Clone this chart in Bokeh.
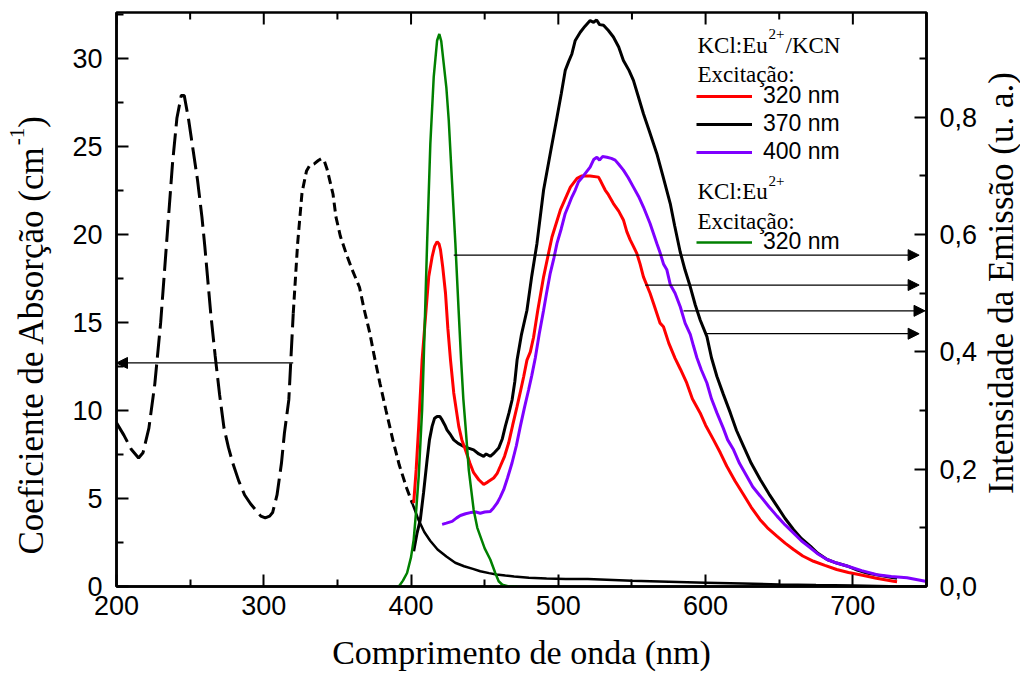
from math import pi
from bokeh.plotting import figure
from bokeh.layouts import row
from bokeh.core.properties import value
from bokeh.models import (Range1d, LinearAxis, FixedTicker, CustomJSTickFormatter, Label,
                          Arrow, NormalHead, Legend, LegendItem)
from bokeh.embed import file_html
from bokeh.resources import INLINE

# ---------------- data ----------------
# Absorption coefficient (cm^-1), left axis
abs_nm = [200, 205, 210, 215, 218, 222, 226, 230, 234, 238, 241, 244, 246, 249, 252, 255, 258, 260,
          264, 267, 270, 273, 276, 279, 283, 287, 291, 295, 298, 301, 304, 306, 309, 312, 314, 317,
          320, 323, 326, 329, 331, 334, 337, 339, 341, 343, 345, 347, 349, 352, 356, 360, 363, 365,
          368, 372, 375, 379, 383, 388, 392, 397, 401,
          405, 409, 413, 418, 424, 430, 436, 442, 447, 453, 458, 464, 470, 480, 492, 505, 520, 550,
          575, 600, 625, 650, 675, 700, 725, 750]
abs_val = [9.3, 8.6, 7.8, 7.3, 7.6, 9.0, 11.5, 15.0, 19.5, 24.0, 26.6, 27.9, 27.9, 26.5, 24.8, 23.1, 21.0, 19.3,
           15.5, 13.1, 10.9, 9.0, 7.9, 7.0, 6.0, 5.2, 4.7, 4.3, 4.0, 3.9, 4.0, 4.2, 5.2, 7.0, 8.7, 10.6,
           15.5, 19.5, 22.4, 23.6, 23.9, 24.0, 24.2, 24.3, 24.2, 23.7, 23.0, 22.3, 21.0, 19.9, 18.9, 18.0, 17.4, 17.0,
           15.8, 14.4, 13.1, 11.5, 10.0, 8.2, 6.9, 5.6, 4.7,
           3.8, 3.1, 2.6, 2.1, 1.7, 1.35, 1.15, 1.0, 0.87, 0.76, 0.68, 0.62, 0.57, 0.5, 0.45, 0.42, 0.42, 0.32,
           0.27, 0.22, 0.17, 0.12, 0.08, 0.05, 0.02, 0.0]

# Emission KCl:Eu2+/KCN, excitation 320 nm (right axis)
red_nm = [401.8, 403.5, 405.2, 407.5, 409.5, 412, 414.3, 416, 417.7, 419, 420, 421.5, 423.4, 425, 426.8, 429,
          432.4, 434.5, 436.9, 440, 442.5, 446, 449.3, 452, 456.1, 458.5, 460.6, 463.5, 466.3, 469, 472,
          474.5, 476.5, 478.7, 481, 483.2, 486, 490, 495.7, 501.4, 508.2, 512.7, 516, 521.6, 527.3, 529,
          531.8, 534, 537.4, 541, 544.2, 546.5, 548.8, 551, 553.3, 555.5, 557.8, 562.3, 564.6, 569.1, 571.4,
          575, 579.3, 583, 587.2, 591, 596.3, 600, 605.4, 610, 614.4, 620, 625.7, 631, 637, 642, 648.4, 654,
          659.7, 666, 673.3, 681, 689, 697, 704.9, 716, 727.6, 730]
red_val = [0.142, 0.2, 0.273, 0.386, 0.45, 0.528, 0.562, 0.58, 0.588, 0.584, 0.574, 0.545, 0.5, 0.44, 0.386, 0.33,
           0.273, 0.25, 0.233, 0.21, 0.194, 0.182, 0.174, 0.178, 0.185, 0.193, 0.205, 0.222, 0.245, 0.275, 0.307,
           0.335, 0.358, 0.386, 0.40, 0.425, 0.47, 0.528, 0.596, 0.642, 0.681, 0.696, 0.70, 0.70, 0.698, 0.69,
           0.676, 0.668, 0.653, 0.64, 0.625, 0.605, 0.591, 0.58, 0.568, 0.55, 0.528, 0.50, 0.483, 0.449, 0.443,
           0.415, 0.389, 0.37, 0.347, 0.32, 0.296, 0.275, 0.25, 0.228, 0.205, 0.18, 0.157, 0.135, 0.114, 0.1, 0.086, 0.074,
           0.063, 0.052, 0.043, 0.036, 0.029, 0.024, 0.020, 0.014, 0.009, 0.008]

# Emission KCl:Eu2+/KCN, excitation 370 nm
blk_nm = [401.8, 404, 406.3, 408.5, 410.9, 412.5, 414.3, 416, 417.7, 419.5, 421.1, 423, 424.4, 427, 429, 432,
          435.7, 439, 442.5, 446, 449.3, 451, 453.8, 456.5, 459.5, 462, 464, 466.5, 468.6, 470.5, 472, 475,
          478.7, 482, 485.5, 490, 494.5, 499.1, 502, 504.7, 507, 509.2, 511.5, 514.9, 518, 521.6, 524, 526,
          528, 530.7, 534, 537.4, 541, 544.2, 548, 551, 554, 557.8, 562, 566.9, 571, 576, 579, 582.8, 586,
          589.6, 593, 596.4, 600.9, 604, 607.7, 612, 616.8, 621, 625.8, 631, 637.2, 643, 648.5, 654, 659.8,
          665, 671.1, 676, 682.5, 689, 696, 703, 709.6, 718, 727.7, 730]
blk_val = [0.06, 0.09, 0.114, 0.16, 0.216, 0.25, 0.273, 0.287, 0.29, 0.29, 0.284, 0.275, 0.267, 0.258, 0.25, 0.244,
           0.239, 0.236, 0.233, 0.226, 0.222, 0.226, 0.222, 0.228, 0.236, 0.252, 0.273, 0.296, 0.318, 0.35, 0.386, 0.43,
           0.471, 0.53, 0.585, 0.676, 0.738, 0.80, 0.84, 0.88, 0.895, 0.908, 0.931, 0.945, 0.955, 0.965, 0.962, 0.966,
           0.958, 0.957, 0.948, 0.937, 0.92, 0.897, 0.88, 0.863, 0.838, 0.806, 0.775, 0.738, 0.70, 0.653, 0.615, 0.57, 0.54,
           0.511, 0.48, 0.454, 0.426, 0.39, 0.358, 0.328, 0.296, 0.266, 0.239, 0.21, 0.182, 0.158, 0.137, 0.116, 0.097,
           0.082, 0.069, 0.057, 0.046, 0.040, 0.035, 0.028, 0.023, 0.019, 0.015, 0.014]

# Emission KCl:Eu2+/KCN, excitation 400 nm
pur_nm = [421.1, 424, 427.9, 431, 433.5, 437, 440.3, 444, 447, 450, 453.8, 456, 458.4, 460.5, 462.9, 465.5,
          468.6, 471.5, 474.2, 477, 479.8, 482, 484.4, 487, 490, 492, 494.5, 497, 499.1, 502, 504.7, 507,
          509.2, 511.5, 513.7, 517, 521.6, 524, 526.2, 528, 530, 533, 536, 538.6, 541, 544.2, 547.5, 551,
          554.5, 557.8, 562.3, 566.9, 569, 571.4, 573.7, 576, 579.3, 582.8, 586.1, 589.6, 591.8, 594.1, 597,
          600.9, 604, 607.7, 612, 615, 619, 623, 628, 632, 637.2, 643, 648.5, 654, 659.8, 665, 671.1, 676,
          682.5, 689, 696, 706, 716.4, 726, 736.8, 743, 749.2]
pur_val = [0.106, 0.108, 0.111, 0.117, 0.121, 0.124, 0.126, 0.127, 0.125, 0.127, 0.128, 0.134, 0.142, 0.152, 0.165, 0.185,
           0.211, 0.24, 0.273, 0.305, 0.335, 0.36, 0.39, 0.43, 0.471, 0.50, 0.534, 0.56, 0.585, 0.61, 0.636, 0.65,
           0.664, 0.676, 0.69, 0.70, 0.715, 0.728, 0.732, 0.727, 0.733, 0.732, 0.73, 0.727, 0.72, 0.71, 0.697, 0.681,
           0.665, 0.647, 0.619, 0.585, 0.57, 0.55, 0.54, 0.515, 0.50, 0.477, 0.449, 0.43, 0.41, 0.39, 0.37,
           0.347, 0.32, 0.296, 0.27, 0.25, 0.233, 0.21, 0.188, 0.17, 0.154, 0.136, 0.12, 0.105, 0.091, 0.078, 0.066, 0.056,
           0.046, 0.040, 0.035, 0.027, 0.020, 0.017, 0.015, 0.012, 0.009]

# Emission KCl:Eu2+, excitation 320 nm
grn_nm = [391.7, 394.5, 397.3, 400, 401.8, 403.5, 405.2, 407.5, 408.6, 410.9, 413.1, 415.4, 417.7, 419.2, 420.5,
          422.2, 424, 425.6, 427.9, 430.1, 432.3, 434, 435.5, 437, 439.2, 442.5, 445, 447, 450, 453.8, 457.2,
          459.5, 462, 466.3, 472]
grn_val = [0.0, 0.01, 0.023, 0.05, 0.08, 0.13, 0.188, 0.30, 0.386, 0.585, 0.755, 0.869, 0.931, 0.942, 0.93,
           0.891, 0.85, 0.795, 0.687, 0.585, 0.471, 0.386, 0.32, 0.273, 0.199, 0.131, 0.10, 0.086, 0.065, 0.046, 0.023,
           0.009, 0.003, 0.0, 0.0]

# arrows (which axis each curve belongs to)
arr_left_x = [320, 200]
arr_left_y = 12.7
arr_right_start = [429, 559, 585, 600]
arr_right_end = [745, 745, 749, 745]
arr_right_y = [0.565, 0.514, 0.470, 0.431]

x_ticks = [200, 300, 400, 500, 600, 700]
x_minor = [250, 350, 450, 550, 650, 750]
yl_ticks = [0, 5, 10, 15, 20, 25, 30]
yl_minor = [2.5, 7.5, 12.5, 17.5, 22.5, 27.5, 32.5]
yr_ticks = [0.0, 0.2, 0.4, 0.6, 0.8]
yr_minor = [0.1, 0.3, 0.5, 0.7, 0.9]

x_title = "Comprimento de onda (nm)"
yl_title = ["Coeficiente de Absorção (cm", "-1", ")"]
yr_title = "Intensidade da Emissão (u. a.)"

# ---------------- layout ----------------
W, H = 1020, 673
LW, RW = 52, 40                 # side strips holding the vertical axis titles
PW = W - LW - RW                # main figure width
FL, FR, FT, FB = 116, 926, 12, 587   # frame edges in page pixels
X0, X1 = 200, 750
YL1 = 32.61
YR1 = 0.9787
PXY = (FB - FT) / YL1   # pixels per left-axis unit


def px2x(px):
    return X0 + (px - FL) * (X1 - X0) / (FR - FL)


def py2y(py):
    return YL1 * (FB - py) / (FB - FT)


p = figure(width=PW, height=H, x_range=Range1d(X0, X1), y_range=Range1d(0, YL1),
           output_backend="svg", toolbar_location=None,
           min_border_left=FL - LW, min_border_right=LW + PW - FR, min_border_top=FT, min_border_bottom=H - FB,
           x_axis_location=None, y_axis_location=None)
p.extra_y_ranges = {"em": Range1d(0, YR1)}
p.grid.grid_line_color = None
p.outline_line_color = "black"
p.outline_line_width = 2.5
p.background_fill_color = "white"
p.border_fill_color = "white"


def style(ax, ticks, minor):
    ax.ticker = FixedTicker(ticks=ticks, minor_ticks=minor)
    ax.axis_line_color = "black"
    ax.axis_line_width = 2.5
    ax.major_tick_in = 12
    ax.major_tick_out = 0
    ax.minor_tick_in = 7
    ax.minor_tick_out = 0
    ax.major_tick_line_width = 2
    ax.minor_tick_line_width = 2
    ax.major_tick_line_color = "black"
    ax.minor_tick_line_color = "black"
    ax.major_label_text_font = "Liberation Sans"
    ax.major_label_text_color = "black"
    ax.major_label_text_font_size = "27px"
    ax.axis_label_text_font = "Liberation Serif"
    ax.axis_label_text_font_style = "normal"
    ax.axis_label_text_color = "black"
    ax.axis_label_text_font_size = "34px"


xb = LinearAxis(axis_label=x_title)
style(xb, x_ticks, x_minor)
xb.major_label_standoff = 9
xb.axis_label_standoff = 16
p.add_layout(xb, "below")

yl = LinearAxis()
style(yl, yl_ticks, yl_minor)
yl.major_label_standoff = 14
p.add_layout(yl, "left")

yr = LinearAxis(y_range_name="em")
style(yr, yr_ticks, yr_minor)
yr.formatter = CustomJSTickFormatter(code="return tick.toFixed(1).replace('.', ',');")
yr.major_label_standoff = 13
p.add_layout(yr, "right")

# inward tick marks on the top frame edge, at the same tick positions as the bottom axis
p.segment(x0=x_ticks, y0=[YL1] * len(x_ticks), x1=x_ticks, y1=[YL1 - 12 / PXY] * len(x_ticks),
          line_color="black", line_width=2)
p.segment(x0=x_minor, y0=[YL1] * len(x_minor), x1=x_minor, y1=[YL1 - 7 / PXY] * len(x_minor),
          line_color="black", line_width=2)

# ---------------- curves ----------------
iA = [i for i, v in enumerate(abs_nm) if v <= 320]
iB = [i for i, v in enumerate(abs_nm) if 320 <= v <= 401]
iC = [i for i, v in enumerate(abs_nm) if v >= 401]
p.line([abs_nm[i] for i in iA], [abs_val[i] for i in iA], line_color="black", line_width=3, line_dash="22 7")
p.line([abs_nm[i] for i in iB], [abs_val[i] for i in iB], line_color="black", line_width=3, line_dash="9 5")
p.line([abs_nm[i] for i in iC], [abs_val[i] for i in iC], line_color="black", line_width=2.5)

r_blk = p.line(blk_nm, blk_val, y_range_name="em", line_color="black", line_width=3)
r_red = p.line(red_nm, red_val, y_range_name="em", line_color="#ff0000", line_width=3)
r_pur = p.line(pur_nm, pur_val, y_range_name="em", line_color="#7f00ff", line_width=3)
r_grn = p.line(grn_nm, grn_val, y_range_name="em", line_color="#008000", line_width=2.5)

# ---------------- arrows ----------------
p.add_layout(Arrow(end=NormalHead(size=11, fill_color="black", line_color="black", line_width=1),
                   x_start=arr_left_x[0], y_start=arr_left_y, x_end=arr_left_x[1], y_end=arr_left_y,
                   line_color="black", line_width=1.2))
for xs, xe, yy in zip(arr_right_start, arr_right_end, arr_right_y):
    p.add_layout(Arrow(end=NormalHead(size=11, fill_color="black", line_color="black", line_width=1),
                       x_start=xs, y_start=yy, x_end=xe, y_end=yy, y_range_name="em",
                       line_color="black", line_width=1.2))

# ---------------- legends ----------------
leg_kw = dict(border_line_alpha=0, background_fill_alpha=0, padding=0, margin=0, spacing=1,
              glyph_width=56, glyph_height=26, label_height=26, label_standoff=11,
              label_text_font="Liberation Sans", label_text_font_size="23px", label_text_color="black")
leg1 = Legend(items=[LegendItem(label="320 nm", renderers=[r_red]),
                     LegendItem(label="370 nm", renderers=[r_blk]),
                     LegendItem(label="400 nm", renderers=[r_pur])],
              location=(696 - FL, FB - 166), **leg_kw)
leg2 = Legend(items=[LegendItem(label="320 nm", renderers=[r_grn])],
              location=(696 - FL, FB - 256), **leg_kw)
p.add_layout(leg1)
p.add_layout(leg2)

SERIF = "Liberation Serif"


def lab(text, px, py, size):
    p.add_layout(Label(x=px2x(px), y=py2y(py), text=text, text_font=SERIF, text_font_size=size,
                       text_color="black", text_baseline="alphabetic", text_align="left"))


lab("KCl:Eu", 697, 45, "23px")
lab("2+", 768, 34, "15px")
lab("/KCN", 785, 45, "23px")
lab("Excitação:", 697, 74, "23px")
lab("KCl:Eu", 697, 191.7, "23px")
lab("2+", 768, 181, "15px")
lab("Excitação:", 697, 221.7, "23px")


# ---------------- side strips with vertical axis titles ----------------
# In a row, Bokeh aligns the strips' frames with the main frame (page rows FT..FB),
# so the strips' y range is expressed as "page pixels measured from the bottom".
def strip(w):
    f = figure(width=w, height=H, x_range=Range1d(0, w), y_range=Range1d(H - FB, H - FT),
               output_backend="svg", toolbar_location=None, min_border=0,
               x_axis_location=None, y_axis_location=None)
    f.grid.grid_line_color = None
    f.outline_line_color = None
    f.background_fill_color = "white"
    f.border_fill_color = "white"
    return f


pl = strip(LW)
tk = dict(angle=pi / 2, text_baseline="middle", text_color="black", text_font=value(SERIF))
pl.text(x=[31], y=[H - 555], text=[yl_title[0]], text_align="left", text_font_size=value("35px"), **tk)
pl.text(x=[16], y=[H - 145], text=[yl_title[1]], text_align="left", text_font_size=value("21px"), **tk)
pl.text(x=[31], y=[H - 127.5], text=[yl_title[2]], text_align="left", text_font_size=value("35px"), **tk)

pr = strip(RW)
pr.text(x=[1001 - (W - RW)], y=[H - 283], text=[yr_title], text_align="center",
        text_font_size=value("35px"), **tk)

layout = row(pl, p, pr, spacing=0)
open("out.html", "w").write(file_html(layout, INLINE))
